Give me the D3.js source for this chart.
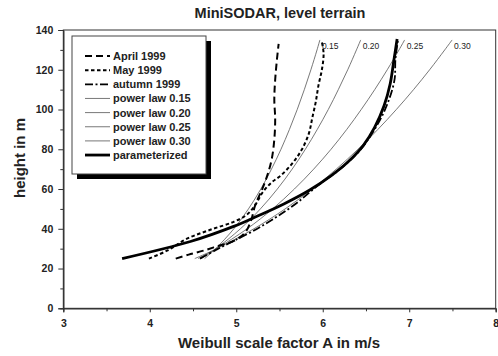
<!DOCTYPE html>
<html><head><meta charset="utf-8">
<script src="https://cdn.jsdelivr.net/npm/d3@7"></script>
<style>
html,body{margin:0;padding:0;background:#fff;}
svg{display:block;font-family:"Liberation Sans",Arial,sans-serif;}
</style></head>
<body><svg id="c" width="498" height="356"></svg>
<script>
// ---- data ----
const xTicks = [3,4,5,6,7,8];
const xMinor = [3.5,4.5,5.5,6.5,7.5];
const yTicks = [0,20,40,60,80,100,120,140];
const yMinor = [10,30,50,70,90,110,130];

const aprilX = [4.30,4.45,4.62,4.80,4.98,5.10,5.17,5.22,5.30,5.36,5.41,5.44,5.45,5.44,5.45,5.47,5.49];
const aprilY = [25,27,29,31.5,34,38,44,52,60,67,75,85,95,105,115,125,133];

const mayX = [3.99,4.20,4.43,4.70,4.97,5.12,5.22,5.30,5.40,5.52,5.65,5.76,5.84,5.88,5.92,5.95,5.99,6.01,5.99];
const mayY = [25,29,35,39.5,43.5,47,52,58,63,67,73,80,88,96,104,112,120,128,134];

const autumnX = [4.58,4.75,4.95,5.20,5.45,5.70,5.95,6.20,6.42,6.60,6.74,6.83,6.84,6.87];
const autumnY = [25,29,33.5,39,45.5,53,62,70,79,90,102,115,125,135];

const powerH = [25,30,40,50,60,70,80,90,100,110,120,130,135];
const power015 = [4.634,4.762,4.972,5.141,5.284,5.407,5.517,5.615,5.705,5.787,5.863,5.934,5.967];
const power020 = [4.595,4.766,5.048,5.279,5.475,5.646,5.799,5.937,6.064,6.180,6.289,6.390,6.439];
const power025 = [4.558,4.770,5.126,5.420,5.672,5.895,6.096,6.278,6.445,6.601,6.746,6.882,6.947];
const power030 = [4.520,4.774,5.204,5.565,5.878,6.156,6.407,6.638,6.851,7.050,7.236,7.411,7.496];
const powerLabels = ["0.15","0.20","0.25","0.30"];

const paramX = [3.68,4.47,4.97,5.24,5.55,5.85,6.09,6.30,6.47,6.60,6.71,6.78,6.82,6.86];
const paramY = [25,33.6,41.2,46.3,52.5,59.5,66.5,74,82,91,102,113,124,135.5];

const legendLabels = ["April 1999","May 1999","autumn 1999","power law 0.15","power law 0.20","power law 0.25","power law 0.30","parameterized"];

// ---- chart ----
const svg = d3.select("#c");
const L=63.3, R=495.7, T=30, B=308.3;
const x = d3.scaleLinear().domain([3,8]).range([L,R]);
const y = d3.scaleLinear().domain([0,140]).range([B,T]);
const FONT = "Liberation Sans, Arial, sans-serif";

const styles = {
  april:{stroke:"#000",w:2,dash:"7,4"},
  may:{stroke:"#000",w:2,dash:"3.5,2.5"},
  autumn:{stroke:"#000",w:1.8,dash:"8,2.5,2,2.5"},
  power:{stroke:"#555",w:0.8,dash:null},
  param:{stroke:"#000",w:2.8,dash:null}
};

// frame
svg.append("rect").attr("x",L).attr("y",T).attr("width",R-L).attr("height",B-T)
  .attr("fill","none").attr("stroke","#333").attr("stroke-width",1);

// axes
svg.append("g").attr("transform",`translate(0,${B})`)
  .call(d3.axisBottom(x).tickValues(xTicks).tickSize(4).tickPadding(7).tickFormat(d3.format("d")));
svg.append("g").attr("transform",`translate(0,${B})`)
  .call(d3.axisBottom(x).tickValues(xMinor).tickSize(3).tickFormat(""));
svg.append("g").attr("transform",`translate(${L},0)`)
  .call(d3.axisLeft(y).tickValues(yTicks).tickSize(5).tickPadding(5).tickFormat(d3.format("d")));
svg.append("g").attr("transform",`translate(${L},0)`)
  .call(d3.axisLeft(y).tickValues(yMinor).tickSize(3).tickFormat(""));
svg.selectAll(".domain").attr("stroke","#333");
svg.selectAll(".tick line").attr("stroke","#333");
svg.selectAll(".tick text").attr("font-size",10.5).attr("font-weight","bold")
  .attr("font-family",FONT).attr("fill","#222");

// clip
svg.append("clipPath").attr("id","clip").append("rect")
  .attr("x",L).attr("y",T).attr("width",R-L).attr("height",B-T);
const plot = svg.append("g").attr("clip-path","url(#clip)");

const line = d3.line().x(d=>x(d[0])).y(d=>y(d[1])).curve(d3.curveCatmullRom.alpha(0.5));
function draw(xs, ys, st){
  plot.append("path").datum(xs.map((v,i)=>[v,ys[i]]))
    .attr("d",line).attr("fill","none").attr("stroke",st.stroke)
    .attr("stroke-width",st.w).attr("stroke-dasharray",st.dash)
    .attr("stroke-linejoin","round");
}
const powers = [power015,power020,power025,power030];
powers.forEach(p=>draw(p,powerH,styles.power));
draw(aprilX,aprilY,styles.april);
draw(mayX,mayY,styles.may);
draw(autumnX,autumnY,styles.autumn);
draw(paramX,paramY,styles.param);

// power labels
powers.forEach((p,i)=>{
  svg.append("text").attr("x",x(p[p.length-1])+2).attr("y",y(powerH[powerH.length-1])+9)
    .attr("font-size",8.5).attr("fill","#222").text(powerLabels[i]);
});

// legend
const lx=72, ly=36, lw=134, lh=138;
svg.append("rect").attr("x",lx+5).attr("y",ly+5).attr("width",lw).attr("height",lh).attr("fill","#000");
svg.append("rect").attr("x",lx).attr("y",ly).attr("width",lw).attr("height",lh)
  .attr("fill","#fff").attr("stroke","#444").attr("stroke-width",1);
const legStyles=[styles.april,styles.may,styles.autumn,styles.power,styles.power,styles.power,styles.power,styles.param];
legendLabels.forEach((t,i)=>{
  const cy = 56 + i*14.15;
  const st = legStyles[i];
  svg.append("line").attr("x1",85).attr("x2",110).attr("y1",cy).attr("y2",cy)
    .attr("stroke",st.stroke).attr("stroke-width",st.w).attr("stroke-dasharray",st.dash);
  svg.append("text").attr("x",113).attr("y",cy+4).attr("font-size",11)
    .attr("font-weight","bold").attr("fill","#222").text(t);
});

// titles
svg.append("text").attr("x",280).attr("y",18).attr("text-anchor","middle")
  .attr("font-size",14.5).attr("font-weight","bold").attr("fill","#222").text("MiniSODAR, level terrain");
svg.append("text").attr("x",279).attr("y",348).attr("text-anchor","middle")
  .attr("font-size",15).attr("font-weight","bold").attr("fill","#222").text("Weibull scale factor A in m/s");
svg.append("text").attr("transform","translate(25,158) rotate(-90)").attr("text-anchor","middle")
  .attr("font-size",15).attr("font-weight","bold").attr("fill","#222").text("height in m");
</script></body></html>
